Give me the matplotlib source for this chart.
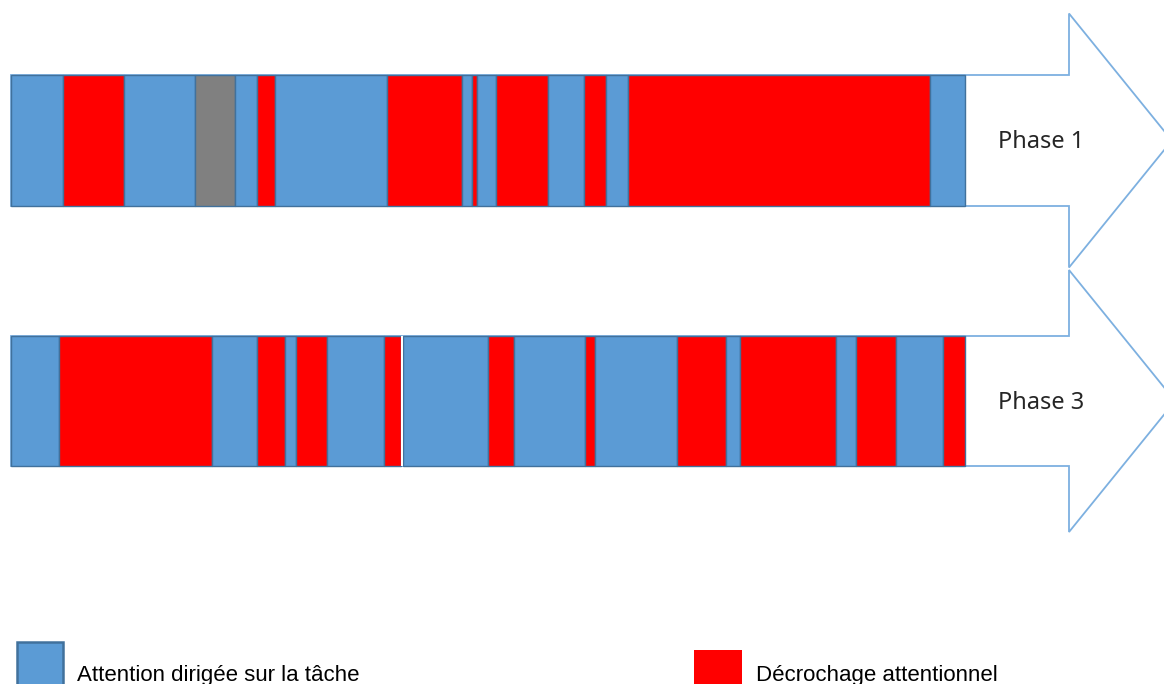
import matplotlib
matplotlib.use('Agg')
import matplotlib.pyplot as plt
from matplotlib.patches import Polygon, Rectangle
import numpy as np

# state codes: A = attention dirigee, D = decrochage, G = autre (gris), W = coupure
phase1_states = ['A', 'D', 'A', 'G', 'A', 'D', 'A', 'D', 'A', 'D', 'A', 'D', 'A', 'D', 'A', 'D', 'A']
phase1_widths = [52, 61, 71, 40, 22, 18, 112, 75, 10, 5, 19, 52, 36, 22, 22, 302, 35]

phase3_states = ['A', 'D', 'A', 'D', 'A', 'D', 'A', 'D', 'W', 'A', 'D', 'A', 'D', 'A', 'D', 'A', 'D', 'A', 'D', 'A', 'D']
phase3_widths = [48, 153, 45, 28, 11, 31, 57, 17, 2, 85, 26, 71, 10, 82, 49, 14, 96, 20, 40, 47, 22]

phase_labels = ['Phase 1', 'Phase 3']
legend_labels = ['Attention dirigée sur la tâche', 'Décrochage attentionnel']

colors = {'A': '#5B9BD5', 'D': '#FF0000', 'G': '#808080', 'W': 'white'}
edge = '#41719C'
arrow_col = '#7DB0E0'

fig = plt.figure(figsize=(11.64, 6.84), dpi=100)
ax = fig.add_axes([0, 0, 1, 1])
ax.set_xlim(-11, 1153)
ax.set_ylim(684, 0)
ax.axis('off')

rows = [(140.5, 131, 127, phase1_states, phase1_widths),
        (401, 130, 131, phase3_states, phase3_widths)]

for i, (yc, h, head, states, widths) in enumerate(rows):
    total = sum(widths)
    # arrow outline behind the bar
    x_neck = 1058
    tip = x_neck + head * 0.81
    pts = [(0, yc - h / 2), (x_neck, yc - h / 2), (x_neck, yc - head), (tip, yc),
           (x_neck, yc + head), (x_neck, yc + h / 2), (0, yc + h / 2)]
    ax.add_patch(Polygon(pts, closed=True, facecolor='white', edgecolor=arrow_col,
                         lw=1.3, zorder=1))
    lefts = np.concatenate([[0], np.cumsum(widths)[:-1]])
    for s, l, w in zip(states, lefts, widths):
        if s == 'W':
            ax.barh(yc, w, left=l, height=h, color='white', edgecolor='none', zorder=3)
        else:
            ax.barh(yc, w, left=l, height=h, color=colors[s], edgecolor=edge,
                    lw=1.0, zorder=2)
    ax.text(total + 33, yc + 2, phase_labels[i], fontsize=17, family='Noto Sans',
            color='#262626', va='center', ha='left', zorder=4)

# legend
ax.add_patch(Rectangle((6, 642), 46, 50, facecolor=colors['A'], edgecolor=edge,
                       lw=1.8, zorder=2))
ax.text(66, 681, legend_labels[0], fontsize=16, family='Liberation Sans',
        color='black', va='baseline', ha='left')
ax.add_patch(Rectangle((683, 650), 48, 40, facecolor=colors['D'], edgecolor='none', zorder=2))
ax.text(745, 681, legend_labels[1], fontsize=16, family='Liberation Sans',
        color='black', va='baseline', ha='left')

fig.savefig('out.png', dpi=100)
